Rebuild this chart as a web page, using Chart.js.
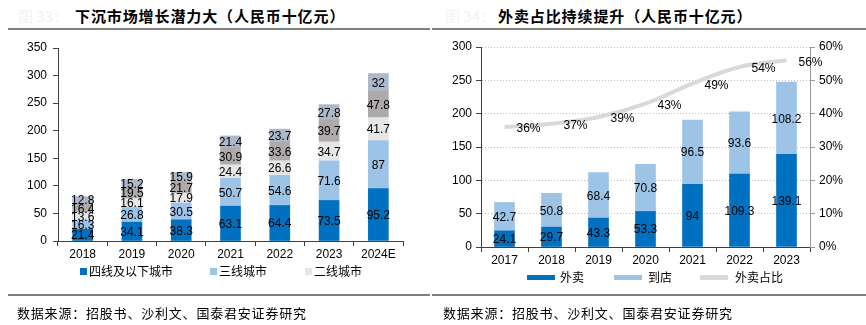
<!DOCTYPE html>
<html>
<head>
<meta charset="utf-8">
<script src="https://cdn.jsdelivr.net/npm/chart.js@4.4.1/dist/chart.umd.min.js"></script>
<style>
body { margin: 0; width: 866px; height: 325px; background: #fff; position: relative; overflow: hidden; font-family: "Noto Sans CJK SC", sans-serif; color: #000; }
.abs { position: absolute; white-space: nowrap; }
.fig { font-size: 15px; color: #f3f3f3; top: 5px; }
.title { font-size: 15px; font-weight: bold; top: 5px; letter-spacing: 0.9px; }
.rule { height: 2px; background: #808080; }
.src { font-size: 13px; top: 303px; letter-spacing: 0.8px; }
.leg { font-size: 12px; top: 262px; line-height: 18px; }
.mark { position: absolute; }
canvas { position: absolute; }
</style>
</head>
<body>

<!-- left panel -->
<div class="abs fig" style="left:18px">图 33：</div>
<div class="abs title" style="left:75px">下沉市场增长潜力大（人民币十亿元）</div>
<div class="abs rule" style="left:8px;width:422px;top:28px"></div>
<canvas id="cityChart" width="430" height="232" style="left:0;top:32px"></canvas>
<div class="mark" style="left:80px;top:268px;width:7px;height:7px;background:#0070C0"></div>
<div class="abs leg" style="left:89px">四线及以下城市</div>
<div class="mark" style="left:210px;top:268px;width:7px;height:7px;background:#9DC3E6"></div>
<div class="abs leg" style="left:219px">三线城市</div>
<div class="mark" style="left:305px;top:268px;width:7px;height:7px;background:#E7E6E6"></div>
<div class="abs leg" style="left:314px">二线城市</div>
<div class="abs rule" style="left:8px;width:422px;top:294px"></div>
<div class="abs src" style="left:17px">数据来源：招股书、沙利文、国泰君安证券研究</div>

<!-- right panel -->
<div class="abs fig" style="left:445px">图 34：</div>
<div class="abs title" style="left:498px">外卖占比持续提升（人民币十亿元）</div>
<div class="abs rule" style="left:432px;width:434px;top:28px"></div>
<canvas id="deliveryChart" width="436" height="240" style="left:430px;top:32px"></canvas>
<div class="mark" style="left:527px;top:275px;width:28px;height:5px;background:#0070C0"></div>
<div class="abs leg" style="left:560px;top:268px">外卖</div>
<div class="mark" style="left:614px;top:275px;width:28px;height:5px;background:#9DC3E6"></div>
<div class="abs leg" style="left:648px;top:268px">到店</div>
<div class="mark" style="left:700px;top:275px;width:28px;height:5px;background:#D9D9D9"></div>
<div class="abs leg" style="left:735px;top:268px">外卖占比</div>
<div class="abs rule" style="left:432px;width:434px;top:294px"></div>
<div class="abs src" style="left:443px">数据来源：招股书、沙利文、国泰君安证券研究</div>

<script>
// market size by city tier
const cityYears = ['2018', '2019', '2020', '2021', '2022', '2023', '2024E'];
const tier4 = [21.4, 34.1, 38.3, 63.1, 64.4, 73.5, 95.2];
const tier3 = [16.3, 26.8, 30.5, 50.7, 54.6, 71.6, 87];
const tier2 = [13.6, 16.1, 17.9, 24.4, 26.6, 34.7, 41.7];
const newTier1 = [16.4, 19.5, 21.7, 30.9, 33.6, 39.7, 47.8];
const tier1 = [12.8, 15.2, 15.9, 21.4, 23.7, 27.8, 32];

// delivery vs in-store
const dealYears = ['2017', '2018', '2019', '2020', '2021', '2022', '2023'];
const delivery = [24.1, 29.7, 43.3, 53.3, 94, 109.3, 139.1];
const inStore = [42.7, 50.8, 68.4, 70.8, 96.5, 93.6, 108.2];
const deliveryShare = [36, 37, 39, 43, 49, 54, 56];

const numFont = '"Liberation Sans Narrow", "Liberation Sans", Arial, sans-serif';
Chart.defaults.font.family = numFont;
Chart.defaults.font.size = 12;
Chart.defaults.color = '#000';

// write the value in the middle of each bar segment
const barLabels = {
    id: 'barLabels',
    afterDatasetsDraw(chart) {
        const ctx = chart.ctx;
        ctx.save();
        ctx.font = '12px ' + numFont;
        ctx.fillStyle = '#000';
        ctx.textAlign = 'center';
        ctx.textBaseline = 'middle';
        chart.data.datasets.forEach(function (ds, i) {
            const meta = chart.getDatasetMeta(i);
            if (meta.type === 'bar') {
                meta.data.forEach(function (bar, j) {
                    ctx.fillText(String(ds.data[j]), bar.x, (bar.y + bar.base) / 2 + 1);
                });
            } else {
                meta.data.forEach(function (pt, j) {
                    ctx.fillText(ds.data[j] + '%', pt.x + 24, pt.y + 2);
                });
            }
        });
        ctx.restore();
    }
};

const axisColor = '#404040';

// Chart setup for city tiers
new Chart(document.getElementById('cityChart'), {
    type: 'bar',
    data: {
        labels: cityYears,
        datasets: [
            { label: '四线及以下城市', data: tier4, backgroundColor: '#0070C0' },
            { label: '三线城市', data: tier3, backgroundColor: '#9DC3E6' },
            { label: '二线城市', data: tier2, backgroundColor: '#E7E6E6' },
            { label: '新一线城市', data: newTier1, backgroundColor: '#AEAAAA' },
            { label: '一线城市', data: tier1, backgroundColor: '#ADB9CA' }
        ]
    },
    options: {
        responsive: false,
        animation: false,
        devicePixelRatio: 1,
        barThickness: 20,
        layout: { padding: { top: 16, right: 27, left: 0, bottom: 0 } },
        plugins: { legend: { display: false }, tooltip: { enabled: false } },
        scales: {
            x: {
                stacked: true,
                grid: { drawOnChartArea: false, tickLength: 5, tickColor: axisColor, offset: true },
                border: { color: axisColor },
                ticks: { padding: 1 },
                afterFit: function (s) { s.height = 23; }
            },
            y: {
                stacked: true,
                min: 0, max: 350,
                grid: { drawOnChartArea: false, tickLength: 5, tickColor: axisColor },
                border: { color: axisColor },
                ticks: { stepSize: 50, padding: 6 },
                afterFit: function (s) { s.width = 58; }
            }
        }
    },
    plugins: [barLabels]
});

// Chart setup for delivery share
new Chart(document.getElementById('deliveryChart'), {
    type: 'bar',
    data: {
        labels: dealYears,
        datasets: [
            { type: 'line', label: '外卖占比', data: deliveryShare, yAxisID: 'y1', borderColor: '#D9D9D9',
              borderWidth: 4, tension: 0.4, pointRadius: 0, fill: false, order: 0 },
            { label: '外卖', data: delivery, backgroundColor: '#0070C0', barThickness: 20, order: 1 },
            { label: '到店', data: inStore, backgroundColor: '#9DC3E6', barThickness: 20, order: 1 }
        ]
    },
    options: {
        responsive: false,
        animation: false,
        devicePixelRatio: 1,
        layout: { padding: { top: 15, right: 0, left: 0, bottom: 0 } },
        plugins: { legend: { display: false }, tooltip: { enabled: false } },
        scales: {
            x: {
                stacked: true,
                grid: { drawOnChartArea: false, tickLength: 5, tickColor: axisColor, offset: true },
                border: { color: axisColor },
                ticks: { padding: 1 },
                afterFit: function (s) { s.height = 25; }
            },
            y: {
                stacked: true,
                min: 0, max: 300,
                grid: { color: '#BFBFBF', tickColor: axisColor, tickLength: 5 },
                border: { color: axisColor, dash: [1, 2] },
                ticks: { stepSize: 50, padding: 4 },
                afterFit: function (s) { s.width = 51; }
            },
            y1: {
                position: 'right',
                min: 0, max: 60,
                grid: { drawOnChartArea: false, tickColor: '#999999', tickLength: 5 },
                border: { color: '#999999' },
                ticks: { stepSize: 10, padding: 4, callback: function (v) { return v + '%'; } },
                afterFit: function (s) { s.width = 56; }
            }
        }
    },
    plugins: [barLabels]
});
</script>
</body>
</html>
